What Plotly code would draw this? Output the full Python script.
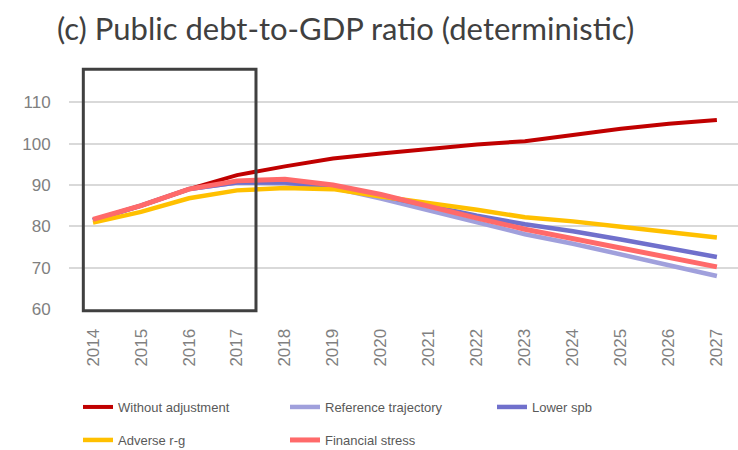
import plotly.graph_objects as go

years = list(range(2014, 2028))
without_adjustment = [81.5, 85.0, 89.0, 92.4, 94.5, 96.4, 97.6, 98.7, 99.8, 100.6, 102.2, 103.6, 104.8, 105.7]
reference_trajectory = [81.5, 85.0, 89.0, 90.6, 90.4, 89.3, 86.7, 83.9, 81.0, 78.1, 75.8, 73.3, 70.6, 68.0]
lower_spb = [81.5, 85.0, 89.0, 90.6, 90.6, 89.6, 87.4, 85.0, 82.6, 80.5, 78.8, 76.8, 74.7, 72.6]
adverse_rg = [80.9, 83.5, 86.8, 88.7, 89.3, 89.0, 87.2, 85.7, 84.0, 82.2, 81.2, 79.9, 78.6, 77.3]
financial_stress = [81.7, 85.0, 89.0, 91.0, 91.4, 90.0, 87.7, 84.7, 82.0, 79.3, 77.1, 74.8, 72.5, 70.2]

series = [
    ("Without adjustment", without_adjustment, "#C00000", 4, "legend"),
    ("Reference trajectory", reference_trajectory, "#A0A0DC", 4.5, "legend"),
    ("Lower spb", lower_spb, "#7070CC", 4.5, "legend"),
    ("Adverse r-g", adverse_rg, "#FFC000", 4.5, "legend2"),
    ("Financial stress", financial_stress, "#FF6A6A", 5, "legend2"),
]

ytick_vals = [60, 70, 80, 90, 100, 110]

W, H = 738, 450
fig = go.Figure()
for name, vals, color, lw, leg in series:
    fig.add_trace(go.Scatter(
        x=years, y=vals, name=name, mode="lines",
        line=dict(color=color, width=lw),
        legend=leg,
    ))

# highlight box (paper coordinates so its bottom edge is not clipped)
fig.add_shape(type="rect", xref="paper", yref="paper",
              x0=0.0214, x1=0.2795, y0=-0.007, y1=0.9665,
              line=dict(color="#404040", width=3), fillcolor="rgba(0,0,0,0)")

legend_font = dict(family="Liberation Sans, Arial", size=13, color="#595959")

fig.update_layout(
    width=W, height=H,
    margin=dict(l=69, r=0, t=61, b=141),
    paper_bgcolor="white", plot_bgcolor="white",
    title=dict(text="(c) Public debt-to-GDP ratio (deterministic)",
               font=dict(family="Lato, Open Sans, sans-serif", size=31, color="#404040"),
               x=57 / W, xanchor="left", xref="container",
               y=1 - 29 / H, yanchor="middle", yref="container"),
    xaxis=dict(range=[2013.5, 2027.44], tickmode="array", tickvals=years,
               ticktext=[str(y) for y in years], tickangle=-90,
               showgrid=False, zeroline=False, showline=False,
               tickfont=dict(family="Liberation Sans, Arial", size=17, color="#808080"),
               ticks="outside", ticklen=12, tickcolor="rgba(0,0,0,0)"),
    yaxis=dict(range=[60, 120], tickmode="array", tickvals=ytick_vals,
               showgrid=True, gridcolor="#D9D9D9", gridwidth=1.5, zeroline=False,
               showline=False,
               tickfont=dict(family="Liberation Sans, Arial", size=17, color="#808080"),
               ticks="outside", ticklen=14, tickcolor="rgba(0,0,0,0)"),
    legend=dict(orientation="h", xref="container", yref="container",
                x=78 / W, xanchor="left", y=1 - 407 / H, yanchor="middle",
                font=legend_font, entrywidth=162, entrywidthmode="pixels",
                bgcolor="rgba(0,0,0,0)", itemwidth=30),
    legend2=dict(orientation="h", xref="container", yref="container",
                 x=78 / W, xanchor="left", y=1 - 440 / H, yanchor="middle",
                 font=legend_font, entrywidth=162, entrywidthmode="pixels",
                 bgcolor="rgba(0,0,0,0)", itemwidth=30),
    showlegend=True,
)

fig.write_html("out.html")
